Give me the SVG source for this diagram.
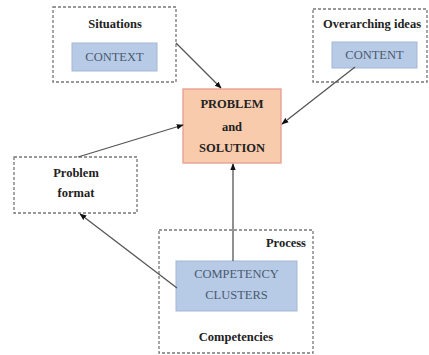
<svg xmlns="http://www.w3.org/2000/svg" width="429" height="355" viewBox="0 0 429 355">
<defs>
<marker id="ah" viewBox="0 0 10 10" refX="9" refY="5" markerWidth="7" markerHeight="7" orient="auto" markerUnits="userSpaceOnUse">
<path d="M0,1 L10,5 L0,9 z" fill="#111"/>
</marker>
<style>
.dash{fill:#fff;stroke:#777;stroke-width:1.3;stroke-dasharray:3,2}
.blue{fill:#b7cae6;stroke:#a3b7d6;stroke-width:1}
.lbl{font-family:'Liberation Serif','DejaVu Serif','Times New Roman',serif;font-size:12.5px;font-weight:bold;fill:#222;text-anchor:middle}
.blbl{font-family:'Liberation Serif','DejaVu Serif','Times New Roman',serif;font-size:12.5px;fill:#4a5a70;text-anchor:middle}
.conn{stroke:#555;stroke-width:1.3;fill:none;marker-end:url(#ah)}
</style>
</defs>
<rect width="429" height="355" fill="#fff"/>
<g id="situations">
<rect class="dash" x="53" y="7" width="123" height="75"/>
<text class="lbl" x="115" y="28" font-family="Liberation Serif, serif">Situations</text>
<rect class="blue" x="72" y="43" width="85" height="28"/>
<text class="blbl" x="114.5" y="61" font-family="Liberation Serif, serif">CONTEXT</text>
</g>
<g id="overarching">
<rect class="dash" x="313" y="9" width="114" height="73"/>
<text class="lbl" x="372" y="28" font-family="Liberation Serif, serif">Overarching ideas</text>
<rect class="blue" x="332" y="42" width="85" height="26"/>
<text class="blbl" x="374.5" y="59" font-family="Liberation Serif, serif">CONTENT</text>
</g>
<g id="problem-solution">
<rect x="183" y="89" width="98" height="74" fill="#f9cbad" stroke="#e89a90" stroke-width="1.3"/>
<text class="lbl" x="232" y="108" font-family="Liberation Serif, serif">PROBLEM</text>
<text class="lbl" x="232" y="131" font-family="Liberation Serif, serif">and</text>
<text class="lbl" x="232" y="152" font-family="Liberation Serif, serif">SOLUTION</text>
</g>
<g id="problem-format">
<rect class="dash" x="14" y="157" width="123" height="56"/>
<text class="lbl" x="76" y="177" font-family="Liberation Serif, serif">Problem</text>
<text class="lbl" x="76" y="197" font-family="Liberation Serif, serif">format</text>
</g>
<g id="process">
<rect class="dash" x="159" y="230" width="154" height="123"/>
<text class="lbl" x="306" y="247" style="text-anchor:end" font-family="Liberation Serif, serif">Process</text>
<rect class="blue" x="176" y="261" width="121" height="50"/>
<text class="blbl" x="236.5" y="278" font-family="Liberation Serif, serif">COMPETENCY</text>
<text class="blbl" x="236.5" y="299" font-family="Liberation Serif, serif">CLUSTERS</text>
<text class="lbl" x="236" y="341" font-family="Liberation Serif, serif">Competencies</text>
</g>
<g id="connectors">
<line class="conn" x1="176" y1="43" x2="221" y2="88"/>
<line class="conn" x1="355" y1="67" x2="282" y2="124"/>
<line class="conn" x1="78" y1="157" x2="183" y2="125"/>
<line class="conn" x1="233" y1="261" x2="233" y2="164"/>
<line class="conn" x1="177" y1="288" x2="80" y2="214"/>
</g>
</svg>
